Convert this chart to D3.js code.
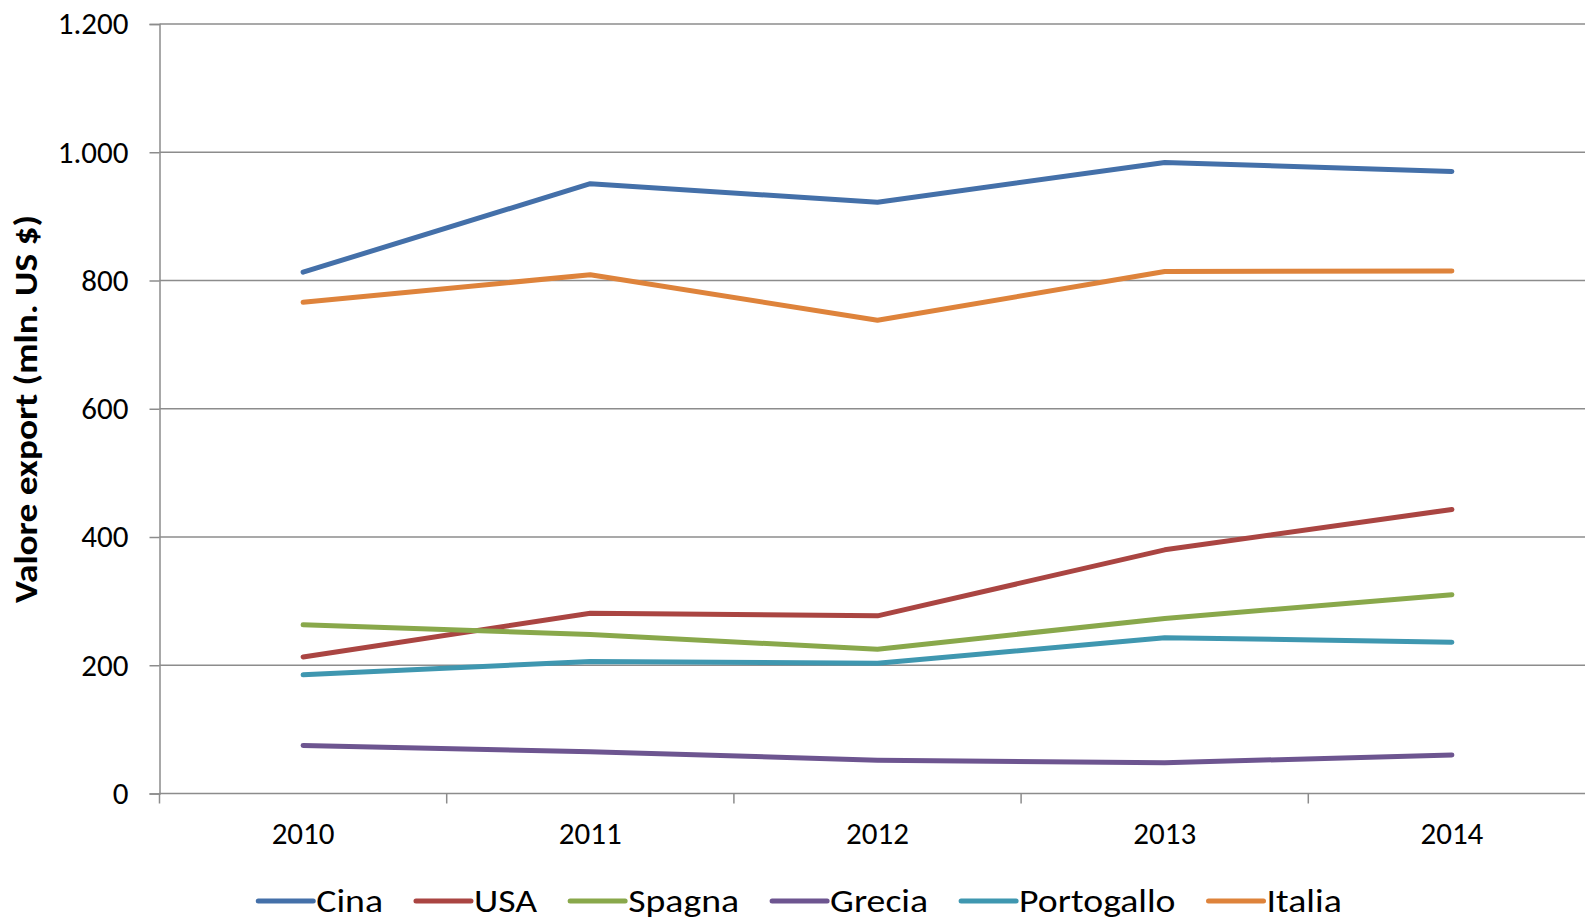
<!DOCTYPE html>
<html>
<head>
<meta charset="utf-8">
<script src="https://cdn.jsdelivr.net/npm/d3@7"></script>
<style>
    body { margin: 0; background: #fff; }
    svg { display: block; font-family: Carlito, Calibri, Lato, sans-serif; }
</style>
</head>
<body>
<svg id="chart" width="1585" height="920"></svg>
<script>
// --- data ---
const years = ["2010", "2011", "2012", "2013", "2014"];
const yTicks = [0, 200, 400, 600, 800, 1000, 1200];

const cina = [813, 951, 922, 984, 970];
const usa = [213, 281, 277, 380, 443];
const spagna = [263, 248, 225, 273, 310];
const grecia = [75, 65, 52, 48, 60];
const portogallo = [185, 206, 203, 243, 236];
const italia = [766, 809, 738, 814, 815];

const seriesNames = ["Cina", "USA", "Spagna", "Grecia", "Portogallo", "Italia"];
const seriesValues = [cina, usa, spagna, grecia, portogallo, italia];
const seriesColors = ["#4470A9", "#AA4542", "#89A84B", "#6D5590", "#3F97B0", "#DE833B"];

const svg = d3.select("#chart");
const margin = { top: 24, left: 159.5, bottom: 126.5 };
const plotRight = 1595.5;
const plotBottom = 920 - margin.bottom;

const x = d3.scaleBand()
    .domain(years)
    .range([margin.left, plotRight]);

const y = d3.scaleLinear()
    .domain([0, 1200])
    .range([plotBottom, margin.top]);

const fmt = d => d3.format(",")(d).replace(/,/g, ".");

// gridlines
svg.append("g")
    .selectAll("line")
    .data(yTicks.filter(d => d > 0))
    .enter().append("line")
    .attr("x1", margin.left)
    .attr("x2", plotRight)
    .attr("y1", d => y(d))
    .attr("y2", d => y(d))
    .attr("stroke", "#8c8c8c")
    .attr("stroke-width", 1.5);

// y axis
const yAxis = svg.append("g")
    .attr("transform", `translate(${margin.left},0)`)
    .call(d3.axisLeft(y).tickValues(yTicks).tickFormat(fmt).tickSize(10).tickPadding(21));
yAxis.select(".domain").attr("stroke", "#8c8c8c").attr("stroke-width", 1.5);
yAxis.selectAll(".tick line").attr("stroke", "#8c8c8c").attr("stroke-width", 1.5);
yAxis.selectAll("text")
    .attr("fill", "#000")
    .style("font-size", "31px")
    .style("font-family", "Carlito, Calibri, Lato, sans-serif");

// x axis, ticks on band boundaries
const xAxis = svg.append("g")
    .attr("transform", `translate(0,${plotBottom})`);
xAxis.append("line")
    .attr("x1", margin.left)
    .attr("x2", plotRight)
    .attr("stroke", "#8c8c8c")
    .attr("stroke-width", 1.5);
xAxis.selectAll(".bound")
    .data(years)
    .enter().append("line")
    .attr("class", "bound")
    .attr("x1", d => x(d))
    .attr("x2", d => x(d))
    .attr("y1", 0)
    .attr("y2", 10)
    .attr("stroke", "#8c8c8c")
    .attr("stroke-width", 1.5);
xAxis.selectAll("text")
    .data(years)
    .enter().append("text")
    .attr("x", d => x(d) + x.bandwidth() / 2)
    .attr("y", 50)
    .attr("text-anchor", "middle")
    .style("font-size", "31px")
    .text(d => d);

// y axis title
svg.append("text")
    .attr("transform", `translate(37,${(215 + 603) / 2}) rotate(-90)`)
    .attr("text-anchor", "middle")
    .attr("textLength", 388)
    .attr("lengthAdjust", "spacingAndGlyphs")
    .style("font-size", "32px")
    .style("font-weight", "bold")
    .text("Valore export (mln. US $)");

// lines
const line = d3.line()
    .x((d, i) => x(years[i]) + x.bandwidth() / 2)
    .y(d => y(d));

svg.append("g")
    .selectAll("path")
    .data(seriesValues)
    .enter().append("path")
    .attr("fill", "none")
    .attr("stroke", (d, i) => seriesColors[i])
    .attr("stroke-width", 5)
    .attr("stroke-linecap", "round")
    .attr("stroke-linejoin", "round")
    .attr("d", line);

// legend
const legend = svg.append("g");
const items = legend.selectAll("g")
    .data(seriesNames)
    .enter().append("g");
items.append("line")
    .attr("x1", 0)
    .attr("x2", 55)
    .attr("stroke", (d, i) => seriesColors[i])
    .attr("stroke-width", 5)
    .attr("stroke-linecap", "round");
items.append("text")
    .attr("x", 58)
    .attr("y", 11)
    .style("font-size", "32px")
    .text(d => d);

const stretch = 1.18;
let cursor = 0;
items.each(function () {
    const t = this.querySelector("text");
    const w = t.getComputedTextLength() * stretch;
    d3.select(t).attr("textLength", w).attr("lengthAdjust", "spacingAndGlyphs");
    d3.select(this).attr("transform", `translate(${cursor},0)`);
    cursor += 58 + w + 33;
});
const totalW = cursor - 33;
legend.attr("transform", `translate(${800 - totalW / 2},901)`);
</script>
</body>
</html>
